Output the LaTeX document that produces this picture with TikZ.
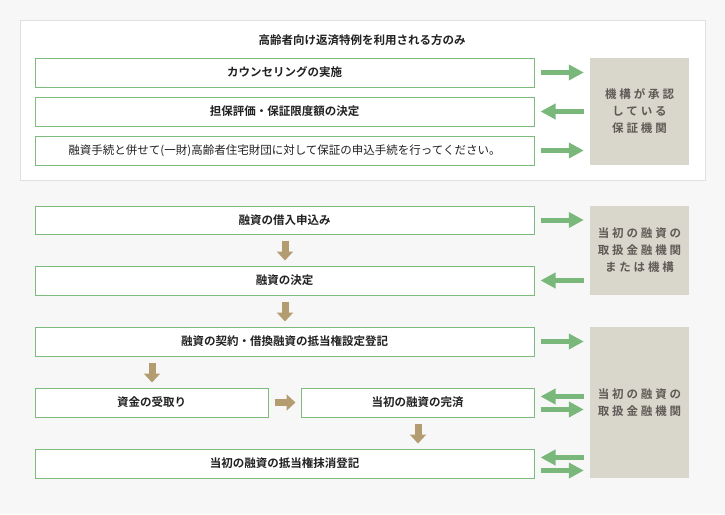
\documentclass[tikz,border=0pt]{standalone}
\usepackage{fontspec}
\setmainfont{Noto Sans CJK JP}[BoldFont={Noto Sans CJK JP Bold}]
\usetikzlibrary{arrows.meta}
\definecolor{bg}{HTML}{F7F7F7}
\definecolor{gb}{HTML}{7CBB7C}
\definecolor{gr}{HTML}{7AB77A}
\definecolor{br}{HTML}{B39C70}
\definecolor{gy}{HTML}{D9D6CC}
\definecolor{gt}{HTML}{5F5A55}
\definecolor{tx}{HTML}{222222}
\begin{document}
\begin{tikzpicture}[x=1pt,y=-1pt,
  box/.style={draw=gb,line width=1pt,fill=white,inner sep=0pt,font=\bfseries\fontsize{11.5}{13}\selectfont,text=tx},
  gbox/.style={fill=gy,inner sep=0pt,align=center,text=gt,font=\bfseries\fontsize{11.5}{17}\selectfont\addfontfeature{LetterSpace=25}},
  garrow/.style={draw=gr,line width=5pt,-{Triangle[width=15pt,length=15pt]}},
  barrow/.style={draw=br,line width=7pt,-{Triangle[width=16pt,length=9pt]}}]
\fill[bg] (0,0) rectangle (725,514);
\useasboundingbox (0,0) rectangle (725,514);
\draw[draw=black!12,fill=white] (20,20) rectangle (705,180);
\node[font=\bfseries\fontsize{11.5}{13}\selectfont,text=tx] (t) at (362,40) {高齢者向け返済特例を利用される方のみ};
\newcommand\bx[6]{\node[box,minimum width=#4-#2,minimum height=#5-#3] (#1) at ({(#2+#4)/2},{(#3+#5)/2}) {#6};}
\bx{b1}{35}{58}{534}{87}{カウンセリングの実施}
\bx{b2}{35}{97}{534}{126}{担保評価・保証限度額の決定}
\bx{b3}{35}{136}{534}{165}{\mdseries 融資手続と併せて(一財)高齢者住宅財団に対して保証の申込手続を行ってください。}
\bx{c1}{35}{206}{534}{234}{融資の借入申込み}
\bx{c2}{35}{266}{534}{295}{融資の決定}
\bx{c3}{35}{327}{534}{356}{融資の契約・借換融資の抵当権設定登記}
\bx{c4}{35}{388}{268}{417}{資金の受取り}
\bx{c5}{301}{388}{534}{417}{当初の融資の完済}
\bx{c6}{35}{449}{534}{478}{当初の融資の抵当権抹消登記}
\newcommand\gx[6]{\node[gbox,minimum width=#4-#2,minimum height=#5-#3] (#1) at ({(#2+#4)/2},{(#3+#5)/2}) {#6};}
\gx{g1}{590}{58}{689}{165}{機構が承認\\している\\保証機関}
\gx{g2}{590}{206}{689}{295}{当初の融資の\\取扱金融機関\\または機構}
\gx{g3}{590}{327}{689}{478}{当初の融資の\\取扱金融機関}
% green arrows
\draw[garrow] ([xshift=6]b1.east) -- ([xshift=-6]g1.west |- b1.east);
\draw[garrow] ([xshift=-6]g1.west |- b2.east) -- ([xshift=6]b2.east);
\draw[garrow] ([xshift=6]b3.east) -- ([xshift=-6]g1.west |- b3.east);
\draw[garrow] ([xshift=6]c1.east) -- ([xshift=-6]g2.west |- c1.east);
\draw[garrow] ([xshift=-6]g2.west |- c2.east) -- ([xshift=6]c2.east);
\draw[garrow] ([xshift=6]c3.east) -- ([xshift=-6]g3.west |- c3.east);
\draw[garrow] ([xshift=-6,yshift=6]g3.west |- c5.east) -- ([xshift=6,yshift=6]c5.east);
\draw[garrow] ([xshift=6,yshift=-7]c5.east) -- ([xshift=-6,yshift=-7]g3.west |- c5.east);
\draw[garrow] ([xshift=-6,yshift=6]g3.west |- c6.east) -- ([xshift=6,yshift=6]c6.east);
\draw[garrow] ([xshift=6,yshift=-7]c6.east) -- ([xshift=-6,yshift=-7]g3.west |- c6.east);
% brown arrows
\draw[barrow] ([yshift=-6]c1.south -| 285,0) -- ([yshift=5]c2.north -| 285,0);
\draw[barrow] ([yshift=-6]c2.south -| 285,0) -- ([yshift=5]c3.north -| 285,0);
\draw[barrow] ([yshift=-6]c3.south -| 152,0) -- ([yshift=5]c4.north -| 152,0);
\draw[barrow] ([yshift=-6]c5.south -| 418,0) -- ([yshift=5]c6.north -| 418,0);
\draw[barrow] ([xshift=6]c4.east) -- ([xshift=-5]c5.west);
\end{tikzpicture}
\end{document}
